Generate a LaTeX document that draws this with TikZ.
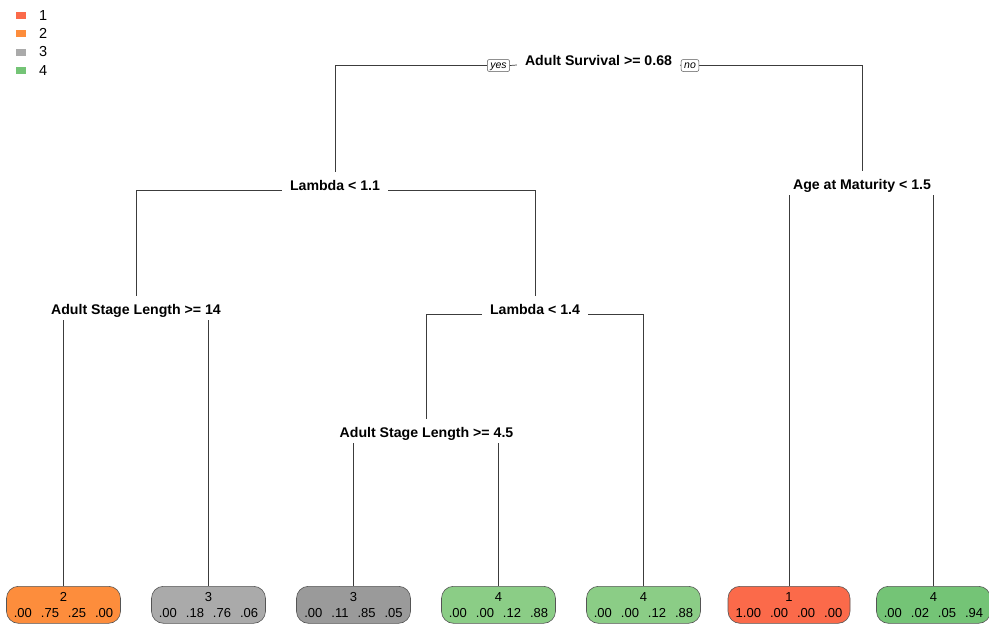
\documentclass[tikz,border=0pt]{standalone}
\usepackage{fontspec}
\setmainfont{Liberation Sans}
\newfontfamily\lblfont{Liberation Sans}[FakeStretch=1.01]
\newfontfamily\leaffont{Liberation Sans}[FakeStretch=1.0]
\definecolor{cred}{HTML}{FB6A4A}
\definecolor{corange}{HTML}{FD8D3C}
\definecolor{cgrayA}{HTML}{AAAAAA}
\definecolor{cgrayB}{HTML}{9A9A9A}
\definecolor{cgreenA}{HTML}{8BCD86}
\definecolor{cgreenB}{HTML}{74C476}
\definecolor{linecol}{HTML}{3C3C3C}
\definecolor{boxline}{HTML}{555555}
\begin{document}
\begin{tikzpicture}[x=1pt,y=-1pt,
  split/.style={font=\lblfont\bfseries\fontsize{14}{16}\selectfont, inner xsep=8pt, inner ysep=2pt,
    text height=16pt, text depth=4pt, anchor=base},
  yesno/.style={draw=boxline, fill=white, rounded corners=2pt, line width=0.5pt,
    font=\itshape\fontsize{10.5}{11}\selectfont, inner xsep=3pt, inner ysep=0pt,
    minimum height=12pt, text height=7.5pt, text depth=2pt},
  branch/.style={draw=linecol, line width=0.7pt},
  leaf/.style={draw=boxline, rounded corners=12pt, minimum width=114pt, minimum height=37pt,
    anchor=north, inner sep=0pt, line width=0.6pt, align=center,
    font=\leaffont\fontsize{13}{16}\selectfont},
  key/.style={minimum width=10pt, minimum height=7pt, inner sep=0pt},
  keytext/.style={anchor=west, font=\fontsize{14.5}{16}\selectfont, inner sep=0pt}
]
\useasboundingbox (0,0) rectangle (989,624);
\clip (0,0) rectangle (989,624);
\newcommand{\gp}{\hspace{9pt}}
% legend
\node[key, fill=cred]    (k1) at (21,15.3) {};
\node[key, fill=corange] (k2) at (21,33.5) {};
\node[key, fill=cgrayA]  (k3) at (21,52) {};
\node[key, fill=cgreenB] (k4) at (21,70.5) {};
\node[keytext] (t1) at (39,15.3) {1};
\node[keytext] (t2) at (39,33.5) {2};
\node[keytext] (t3) at (39,52) {3};
\node[keytext] (t4) at (39,70.5) {4};
% split nodes
\node[split] (root) at (598.5,65) {Adult Survival >= 0.68};
\node[yesno] (yes) at (498.5,65.5) {yes};
\node[yesno] (no) at (690,65.5) {no};
\node[split] (L1) at (335,190) {Lambda < 1.1};
\node[split] (A1) at (862,189) {Age at Maturity < 1.5};
\node[split] (S14) at (136,314) {Adult Stage Length >= 14};
\node[split] (L14) at (535,314) {Lambda < 1.4};
\node[split] (S45) at (426.5,437) {Adult Stage Length >= 4.5};
% leaves
\node[leaf, fill=corange] (f1) at (63.5,586) {2\\.00\gp.75\gp.25\gp.00};
\node[leaf, fill=cgrayA]  (f2) at (208.5,586) {3\\.00\gp.18\gp.76\gp.06};
\node[leaf, fill=cgrayB]  (f3) at (353.5,586) {3\\.00\gp.11\gp.85\gp.05};
\node[leaf, fill=cgreenA] (f4) at (498.5,586) {4\\.00\gp.00\gp.12\gp.88};
\node[leaf, fill=cgreenA] (f5) at (643.5,586) {4\\.00\gp.00\gp.12\gp.88};
\node[leaf, fill=cred, minimum width=122pt] (f6) at (789,586) {1\\1.00\gp.00\gp.00\gp.00};
\node[leaf, fill=cgreenB] (f7) at (933.5,586) {4\\.00\gp.02\gp.05\gp.94};
% branches
\draw[branch] (L1.north) |- (yes.west);
\draw[branch] (yes.east) -- (root.base west);
\draw[branch] (root.base east) -- (no.west);
\draw[branch] (A1.north) |- (no.east);
\draw[branch] (S14.north) |- (L1.base west);
\draw[branch] (L14.north) |- (L1.base east);
\draw[branch] (f6.north) -- (f6.north |- A1.south);
\draw[branch] (f7.north) -- (f7.north |- A1.south);
\draw[branch] (f1.north) -- (f1.north |- S14.south);
\draw[branch] (f2.north) -- (f2.north |- S14.south);
\draw[branch] (S45.north) |- (L14.base west);
\draw[branch] (f5.north) |- (L14.base east);
\draw[branch] (f3.north) -- (f3.north |- S45.south);
\draw[branch] (f4.north) -- (f4.north |- S45.south);
\end{tikzpicture}
\end{document}
